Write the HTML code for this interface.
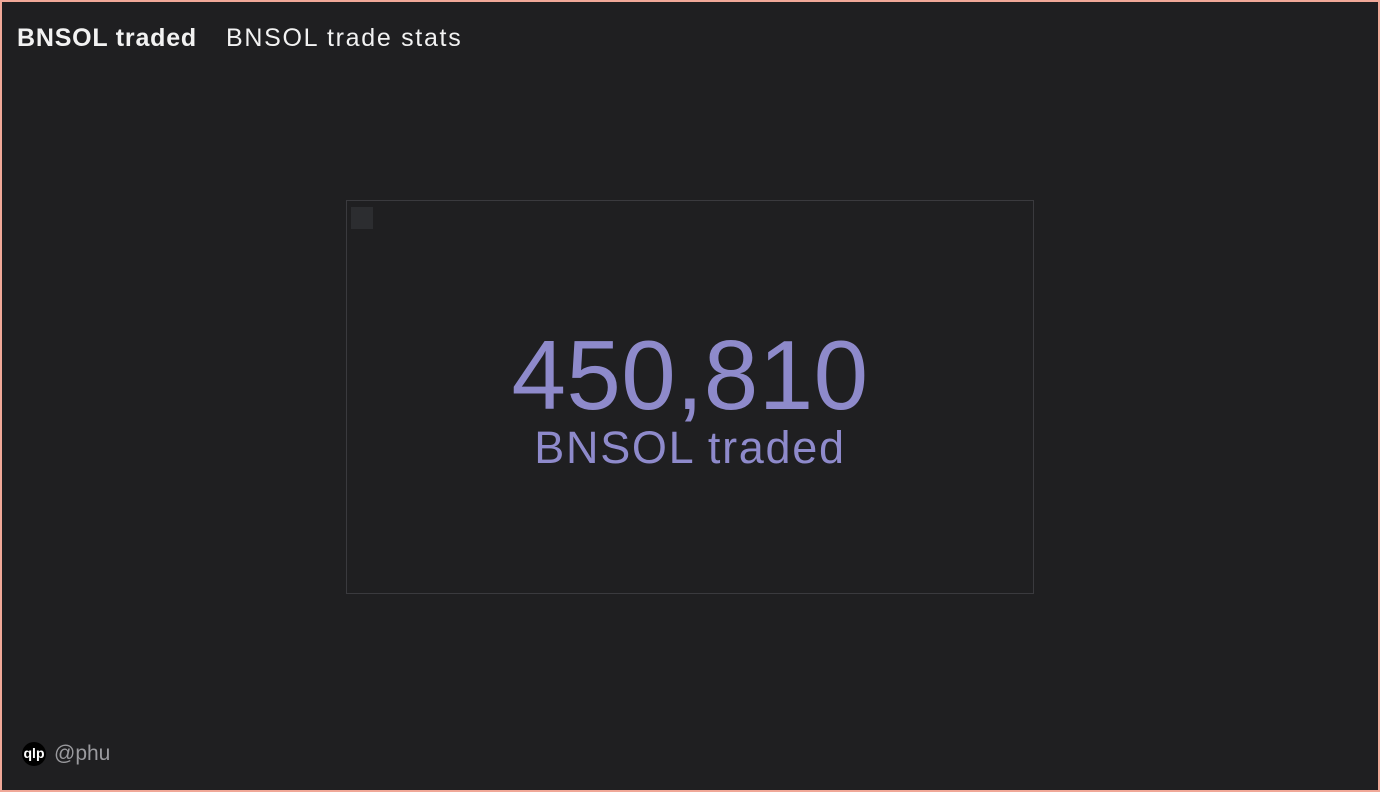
<!DOCTYPE html>
<html><head><meta charset="utf-8"><style>
html,body{margin:0;padding:0;}
body{width:1380px;height:792px;background:#f0a898;position:relative;overflow:hidden;font-family:"Liberation Sans",sans-serif;}
#frame{position:absolute;left:2px;top:2px;width:1376px;height:788px;background:#1f1f21;}
.t{position:absolute;top:22px;font-size:25px;color:#f2f2f2;white-space:nowrap;}
#card{position:absolute;left:344px;top:198px;width:688px;height:394px;border:1px solid #3a3a3e;box-sizing:border-box;}
#num{position:absolute;left:0;width:100%;top:124px;text-align:center;font-size:98px;line-height:100px;letter-spacing:0.4px;color:#8e8acb;}
#lbl{position:absolute;left:0;width:100%;top:222px;text-align:center;font-size:45px;line-height:50px;letter-spacing:1.7px;color:#8e8acb;}
#logo{position:absolute;left:20px;top:740px;width:24px;height:24px;border-radius:50%;background:#000;color:#fff;font-size:14px;line-height:22px;text-align:center;font-weight:bold;}
#user{position:absolute;left:52px;top:740px;font-size:21px;color:#9a9a9e;}
</style></head><body>
<div id="frame">
<div class="t" style="left:15px;font-weight:bold;letter-spacing:0.8px">BNSOL traded</div>
<div class="t" style="left:224px;letter-spacing:1.7px">BNSOL trade stats</div>
<div id="card">
<div style="position:absolute;left:4px;top:6px;width:22px;height:22px;background:#2c2d30"></div>
<div id="num">450,810</div>
<div id="lbl">BNSOL traded</div>
</div>
<div id="logo">qlp</div>
<div id="user">@phu</div>
</div>
</body></html>
